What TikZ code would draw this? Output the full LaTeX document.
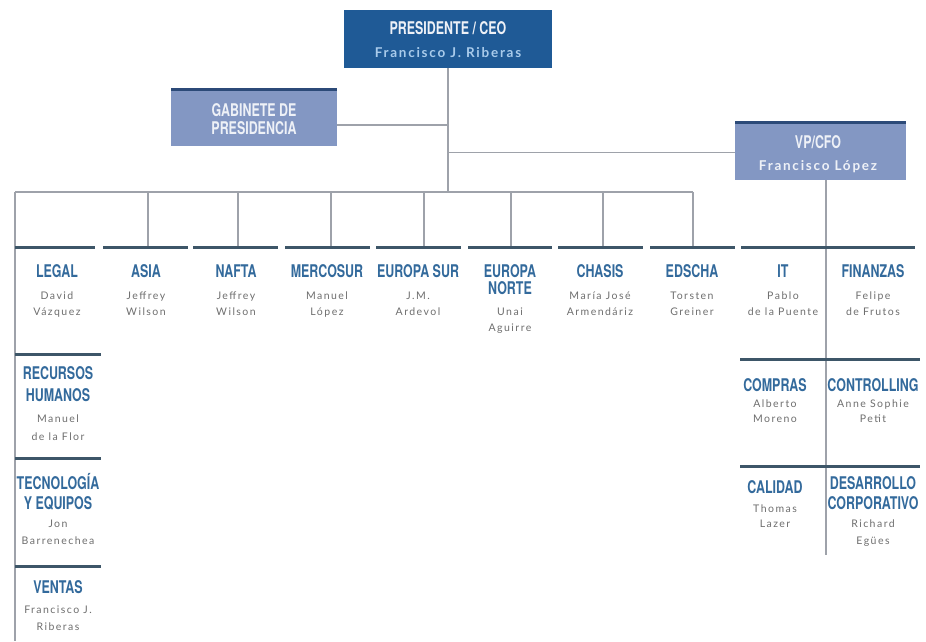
\documentclass[tikz,border=0pt]{standalone}
\usepackage{fontspec}
\setmainfont{Lato}
\newfontfamily\ttlfont[FakeStretch=0.71]{TeX Gyre Heros}
\newfontfamily\nmfont[LetterSpace=14]{Lato}
\newfontfamily\boxnmfont[LetterSpace=13]{Lato}
\definecolor{presblue}{HTML}{1F5A96}
\definecolor{boxblue}{HTML}{8397C3}
\definecolor{stripc}{HTML}{2C4A78}
\definecolor{ttlblue}{HTML}{336A9C}
\definecolor{nmgray}{HTML}{6E6E6E}
\definecolor{lineg}{HTML}{9EA2AA}
\definecolor{bardark}{HTML}{3D5668}
\definecolor{lightname}{HTML}{A9CBEB}
\definecolor{boxtext}{HTML}{EEF1F7}
\begin{document}
\begin{tikzpicture}[x=1pt,y=-1pt,
  conn/.style={draw=lineg, line width=1.5pt},
  bar/.style={draw=bardark, line width=3pt},
  ttl/.style={anchor=base, inner sep=0pt, text=ttlblue, font=\fontsize{17.5}{18}\selectfont\ttlfont\bfseries},
  nm/.style={anchor=base, inner sep=0pt, text=nmgray, font=\fontsize{10.5}{12}\selectfont\nmfont},
  boxttl/.style={anchor=base, inner sep=0pt, text=boxtext, font=\fontsize{17.5}{18}\selectfont\ttlfont\bfseries},
  presbox/.style={fill=presblue, draw=none, inner sep=0pt},
  lightbox/.style={fill=boxblue, draw=none, inner sep=0pt}]
\useasboundingbox[fill=white] (0,0) rectangle (926,641);

% boxes
\node[presbox, minimum width=208pt, minimum height=58pt] (pres) at (448,39) {};
\node[lightbox, minimum width=166pt, minimum height=58pt] (gab) at (254,117) {};
\node[lightbox, minimum width=171pt, minimum height=59pt] (vp) at (820.5,150.5) {};
\fill[stripc] (gab.north west) rectangle ([yshift=-3pt]gab.north east);
\fill[stripc] (vp.north west) rectangle ([yshift=-3pt]vp.north east);

\node[boxttl] (presT) at (448,34) {PRESIDENTE / CEO};
\node[anchor=base, inner sep=0pt, text=lightname, font=\fontsize{13.5}{14}\selectfont\boxnmfont\bfseries] (presN) at (448,57) {Francisco J. Riberas};
\node[boxttl] (gabT1) at (254,116) {GABINETE DE};
\node[boxttl] (gabT2) at (254,134) {PRESIDENCIA};
\node[boxttl] (vpT) at (818,148) {VP/CFO};
\node[anchor=base, inner sep=0pt, text=boxtext, font=\fontsize{13.5}{14}\selectfont\boxnmfont\bfseries] (vpN) at (818,170) {Francisco López};

% connectors
\coordinate (busL) at (15,192);
\coordinate (busR) at (693,192);
\coordinate (leftEnd) at (15,641);
\coordinate (vpDown) at ([xshift=5.5pt]vp.south);
\coordinate (vpEnd) at (826,555);
\draw[conn] (pres.south) -- (pres.south |- busL);
\draw[conn] ([yshift=-8pt]gab.east) -- ([yshift=-8pt]gab.east -| pres.south);
\draw[conn] ([yshift=-2pt]vp.west) -- ([yshift=-2pt]vp.west -| pres.south);
\draw[conn] (vpDown) -- (vpEnd);
\draw[conn] (busL) -- (busR);
\draw[conn] (busL) -- (leftEnd);
\foreach \x in {148,238,331,424,511,603,693}
  \draw[conn] (\x,192) -- (\x,247);

% bars
\foreach \a/\b in {15/95,103/188,193/278,285/370,376/461,468/552,558/643,650/735,741/915}
  \draw[bar] (\a,247) -- (\b,247);
\foreach \y in {354,458,566}
  \draw[bar] (15,\y) -- (101,\y);
\foreach \y in {359,466}
  \draw[bar] (740,\y) -- (920,\y);

% row 1
\node[ttl] (legT) at (57,277) {LEGAL};
\node[nm] (legN1) at (57,299) {David};
\node[nm] (legN2) at (57,315) {Vázquez};
\node[ttl] (asiT) at (146,277) {ASIA};
\node[nm] (asiN1) at (146,299) {Jeffrey};
\node[nm] (asiN2) at (146,315) {Wilson};
\node[ttl] (nafT) at (236,277) {NAFTA};
\node[nm] (nafN1) at (236,299) {Jeffrey};
\node[nm] (nafN2) at (236,315) {Wilson};
\node[ttl] (merT) at (327,277) {MERCOSUR};
\node[nm] (merN1) at (327,299) {Manuel};
\node[nm] (merN2) at (327,315) {López};
\node[ttl] (eusT) at (418,277) {EUROPA SUR};
\node[nm] (eusN1) at (418,299) {J.M.};
\node[nm] (eusN2) at (418,315) {Ardevol};
\node[ttl] (eunT1) at (510,277) {EUROPA};
\node[ttl] (eunT2) at (510,294) {NORTE};
\node[nm] (eunN1) at (510,315) {Unai};
\node[nm] (eunN2) at (510,331) {Aguirre};
\node[ttl] (chaT) at (600,277) {CHASIS};
\node[nm] (chaN1) at (600,299) {María José};
\node[nm] (chaN2) at (600,315) {Armendáriz};
\node[ttl] (edsT) at (692,277) {EDSCHA};
\node[nm] (edsN1) at (692,299) {Torsten};
\node[nm] (edsN2) at (692,315) {Greiner};
\node[ttl] (itT) at (783,277) {IT};
\node[nm] (itN1) at (783,299) {Pablo};
\node[nm] (itN2) at (783,315) {de la Puente};
\node[ttl] (finT) at (873,277) {FINANZAS};
\node[nm] (finN1) at (873,299) {Felipe};
\node[nm] (finN2) at (873,315) {de Frutos};

% left column
\node[ttl] (rhT1) at (58,379) {RECURSOS};
\node[ttl] (rhT2) at (58,401) {HUMANOS};
\node[nm] (rhN1) at (58,422) {Manuel};
\node[nm] (rhN2) at (58,440) {de la Flor};
\node[ttl] (teT1) at (58,489) {TECNOLOGÍA};
\node[ttl] (teT2) at (58,509) {Y EQUIPOS};
\node[nm] (teN1) at (58,527) {Jon};
\node[nm] (teN2) at (58,544) {Barrenechea};
\node[ttl] (veT) at (58,593) {VENTAS};
\node[nm] (veN1) at (58,613) {Francisco J.};
\node[nm] (veN2) at (58,630) {Riberas};

% right columns
\node[ttl] (coT) at (775,391) {COMPRAS};
\node[nm] (coN1) at (775,407) {Alberto};
\node[nm] (coN2) at (775,422) {Moreno};
\node[ttl] (ctT) at (873,391) {CONTROLLING};
\node[nm] (ctN1) at (873,407) {Anne Sophie};
\node[nm] (ctN2) at (873,422) {Petit};
\node[ttl] (caT) at (775,493) {CALIDAD};
\node[nm] (caN1) at (775,512) {Thomas};
\node[nm] (caN2) at (775,527) {Lazer};
\node[ttl] (deT1) at (873,489) {DESARROLLO};
\node[ttl] (deT2) at (873,509) {CORPORATIVO};
\node[nm] (deN1) at (873,527) {Richard};
\node[nm] (deN2) at (873,544) {Egües};
\end{tikzpicture}
\end{document}
